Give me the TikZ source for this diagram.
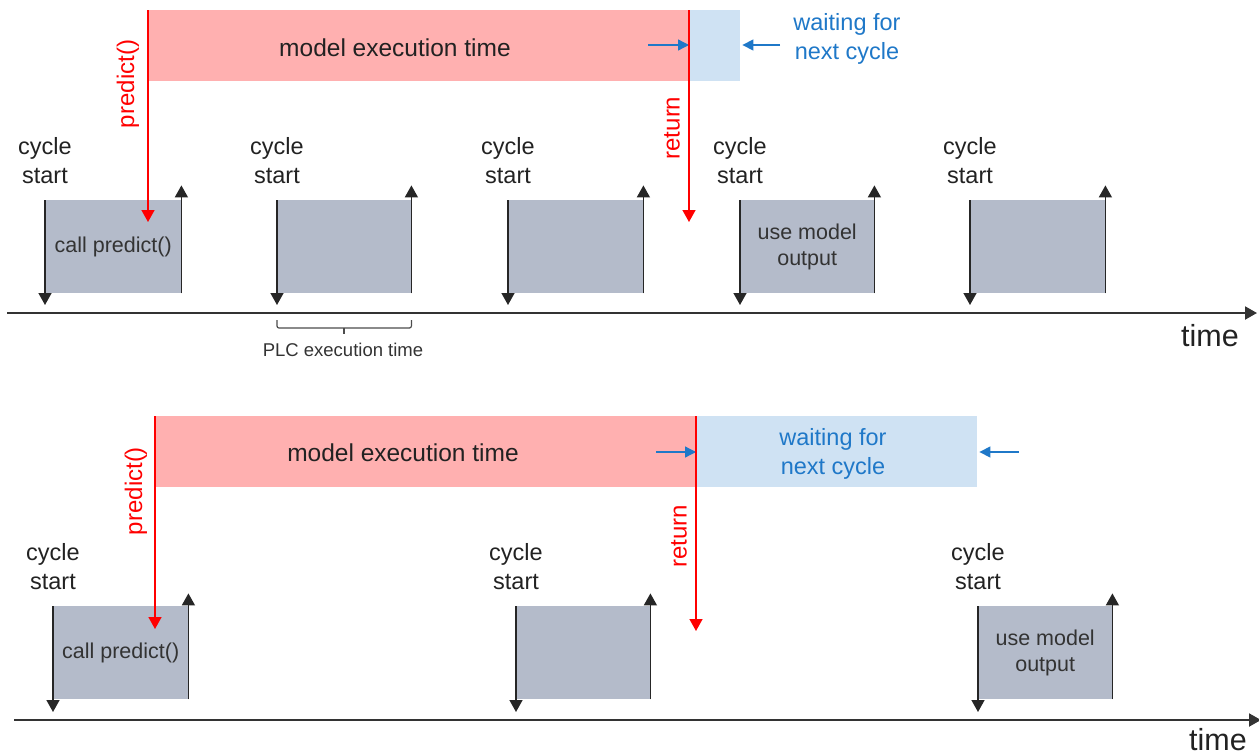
\documentclass[tikz,border=0pt]{standalone}
\usepackage{fontspec}
\setmainfont{Liberation Sans}
\usetikzlibrary{arrows.meta}
\definecolor{redbar}{RGB}{255,176,176}
\definecolor{bluebar}{RGB}{207,226,243}
\definecolor{boxgray}{RGB}{180,187,202}
\definecolor{bluetxt}{RGB}{31,120,200}
\definecolor{txt}{RGB}{34,34,34}
\definecolor{boxtxt}{RGB}{51,51,51}
\tikzset{
  pcbox/.style={fill=boxgray, draw=none, anchor=north west, minimum width=#1, minimum height=93pt, inner sep=0pt, text=boxtxt, align=center, font=\fontsize{21.5}{26}\selectfont},
  rbar/.style={fill=redbar, draw=none, anchor=north west, minimum height=71pt, minimum width=#1, inner sep=0pt},
  bbar/.style={fill=bluebar, draw=none, anchor=north west, minimum height=71pt, minimum width=#1, inner sep=0pt},
  lbl/.style={text=txt, align=center, font=\fontsize{23.5}{29}\selectfont, inner sep=0pt},
  biglbl/.style={text=txt, align=center, font=\fontsize{24.5}{29}\selectfont, inner sep=0pt},
  bluelbl/.style={text=bluetxt, align=center, font=\fontsize{23.5}{29}\selectfont, inner sep=0pt},
  redlbl/.style={text=red, font=\fontsize{24}{29}\selectfont, inner sep=0pt, rotate=90},
  blk/.style={draw=black!85, line width=1.5pt, -{Triangle[width=13pt,length=12pt]}},
  redarr/.style={draw=red, line width=1.5pt, -{Triangle[width=13pt,length=12pt]}},
  bluearr/.style={draw=bluetxt, line width=1.3pt, -{Triangle[width=11pt,length=11pt]}},
  axis/.style={draw=black!80, line width=2pt, -{Triangle[width=13pt,length=12pt]}},
  timelbl/.style={text=txt, font=\fontsize{30.5}{36}\selectfont, inner sep=0pt},
}
\begin{document}
\begin{tikzpicture}[x=1pt,y=-1pt]
\useasboundingbox (0,0) rectangle (1259,755);

% ===== top panel =====
\node[rbar=541pt] (r1) at (148,10) {};
\node[bbar=51pt] (w1) at (689,10) {};
\node[biglbl] (m1) at (395,48) {model execution time};
\node[bluelbl] (wt1) at (847,39) {waiting for\\next cycle};
\coordinate (ba1) at (648,45);
\coordinate (bb1) at (780,45);
\draw[bluearr] (ba1) -- (w1.west |- ba1);
\draw[bluearr] (bb1) -- ([xshift=2pt]w1.east |- bb1);

\node[pcbox=136pt] (a1) at (45,200) {call predict()};
\node[pcbox=134pt] (a2) at (277,200) {};
\node[pcbox=135pt] (a3) at (508,200) {};
\node[pcbox=134pt] (a4) at (740,200) {use model\\output};
\node[pcbox=135pt] (a5) at (970,200) {};

\foreach \b in {a1,a2,a3,a4,a5}{
  \draw[blk] (\b.north west) -- ++(0,105);
  \draw[blk] (\b.south east) -- ++(0,-108);
}
\foreach \b/\x in {a1/45,a2/277,a3/508,a4/740,a5/970}{
  \node[lbl] at (\x,161) {cycle\\start};
}

\draw[redarr] (r1.north west) -- ++(0,212);
\node[redlbl] (p1) at (128,84) {predict()};
\draw[redarr] (w1.north west) -- ++(0,212);
\node[redlbl] (rt1) at (672,128) {return};

\coordinate (ax1s) at (7,313);
\coordinate (ax1e) at (1257,313);
\draw[axis] (ax1s) -- (ax1e);
\node[timelbl] (t1) at (1210,336) {time};

% brace
\draw[black!70, line width=1.2pt, rounded corners=2pt]
  (a2.south west |- 0,320) -- (a2.south west |- 0,328) -- (a2.south east |- 0,328) -- (a2.south east |- 0,320);
\draw[black!70, line width=1.2pt] (344,328) -- (344,334);
\node[text=boxtxt, font=\fontsize{18.5}{22}\selectfont, inner sep=0pt] (plc) at (343,350) {PLC execution time};

% ===== bottom panel =====
\node[rbar=541pt] (r2) at (155,416) {};
\node[bbar=281pt] (w2) at (696,416) {};
\node[biglbl] (m2) at (403,453) {model execution time};
\node[bluelbl] (wt2) at (833,454) {waiting for\\next cycle};
\coordinate (ba2) at (656,452);
\coordinate (bb2) at (1019,452);
\draw[bluearr] (ba2) -- (w2.west |- ba2);
\draw[bluearr] (bb2) -- ([xshift=2pt]w2.east |- bb2);

\node[pcbox=135pt] (c1) at (53,606) {call predict()};
\node[pcbox=134pt] (c2) at (516,606) {};
\node[pcbox=134pt] (c3) at (978,606) {use model\\output};
\foreach \b in {c1,c2,c3}{
  \draw[blk] (\b.north west) -- ++(0,106);
  \draw[blk] (\b.south east) -- ++(0,-106);
}
\foreach \x in {53,516,978}{
  \node[lbl] at (\x,567) {cycle\\start};
}

\draw[redarr] (r2.north west) -- ++(0,213);
\node[redlbl] (p2) at (136,491) {predict()};
\draw[redarr] (w2.north west) -- ++(0,215);
\node[redlbl] (rt2) at (679,536) {return};

\coordinate (ax2s) at (14,720);
\coordinate (ax2e) at (1261,720);
\draw[axis] (ax2s) -- (ax2e);
\node[timelbl] (t2) at (1218,740) {time};
\end{tikzpicture}
\end{document}
